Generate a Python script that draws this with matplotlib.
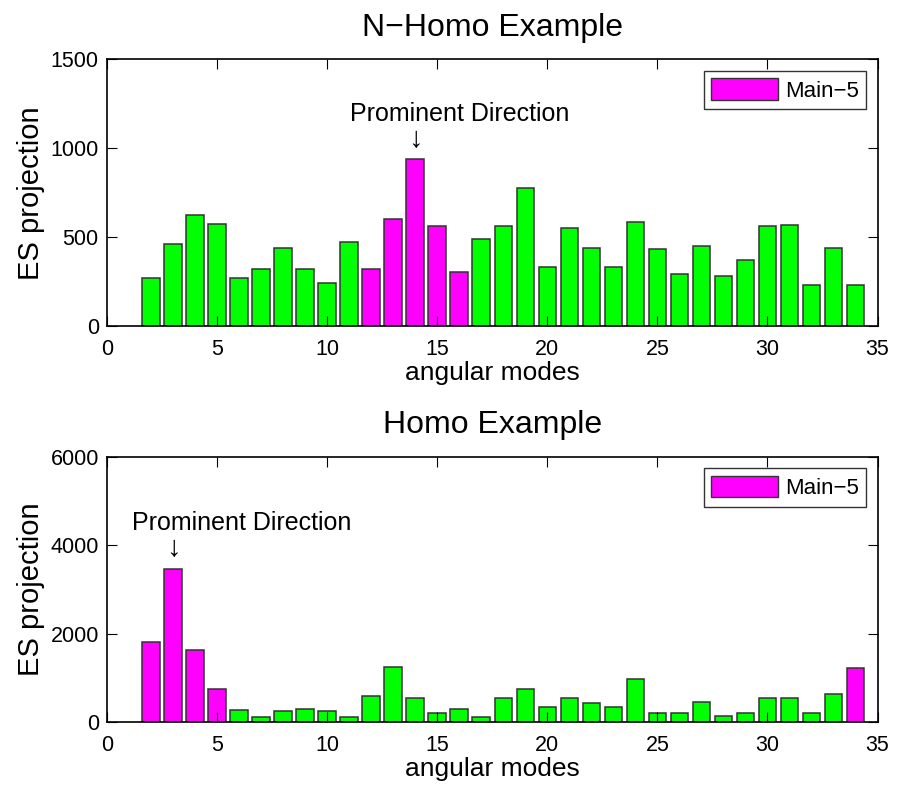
import numpy as np
import matplotlib
matplotlib.use('Agg')
import matplotlib.pyplot as plt
from matplotlib.patches import Patch

plt.rcParams['font.family'] = ['Liberation Sans', 'DejaVu Sans']

modes = list(range(2, 35))

# N-Homo example
nhomo_vals = [270, 461, 624, 573, 270, 320, 438, 320, 242, 472,
              320, 601, 940, 562, 303, 489, 562, 775, 332, 551,
              438, 332, 584, 433, 292, 450, 281, 371, 562, 568,
              230, 438, 230]
nhomo_main = [12, 13, 14, 15, 16]

# Homo example
homo_vals = [1814, 3465, 1628, 762, 278, 127, 246, 307, 246, 127,
             598, 1248, 553, 210, 307, 127, 553, 762, 336, 553,
             434, 336, 979, 217, 217, 457, 143, 217, 553, 560,
             217, 636, 1219]
homo_main = [2, 3, 4, 5, 34]

green = '#00ff00'
magenta = '#ff00ff'

fig = plt.figure(figsize=(9, 7.92), dpi=100)
ax1 = fig.add_axes([0.119, 0.588, 0.856, 0.337])
ax2 = fig.add_axes([0.119, 0.088, 0.856, 0.335])


def draw(ax, vals, main, ymax, title, txt_xy, arr_xy):
    cols = [magenta if m in main else green for m in modes]
    ax.bar(modes, vals, width=0.8, color=cols, edgecolor='#333333', linewidth=1.1)
    ax.set_xlim(0, 35)
    ax.set_ylim(0, ymax)
    ax.set_xticks(range(0, 36, 5))
    ax.set_yticks(np.linspace(0, ymax, 4))
    ax.tick_params(direction='in', top=True, right=True, length=7, labelsize=15.5)
    ax.tick_params(axis='x', pad=9)
    ax.tick_params(axis='y', pad=6)
    ax.set_xlabel('angular modes', fontsize=19, labelpad=1)
    ax.set_ylabel('ES projection', fontsize=21, labelpad=4)
    ax.set_title(title, fontsize=23, pad=17)
    ax.text(txt_xy[0], txt_xy[1], 'Prominent Direction', fontsize=18, ha='left', va='center')
    ax.text(arr_xy[0], arr_xy[1], '\u2193', fontsize=21, ha='center', va='center')
    leg = ax.legend([Patch(facecolor=magenta, edgecolor='#333333')], ['Main\u22125'],
                    loc='upper right', fontsize=16, handlelength=3.0, handleheight=1.1,
                    fancybox=False, edgecolor='black', borderaxespad=0.5,
                    handletextpad=0.3, borderpad=0.35)
    leg.get_frame().set_linewidth(1.0)
    for s in ax.spines.values():
        s.set_linewidth(1.2)


draw(ax1, nhomo_vals, nhomo_main, 1500, 'N\u2212Homo Example', (11.05, 1193), (14, 1055))
draw(ax2, homo_vals, homo_main, 6000, 'Homo Example', (1.15, 4500), (3, 3940))

plt.savefig('out.png', dpi=100)
